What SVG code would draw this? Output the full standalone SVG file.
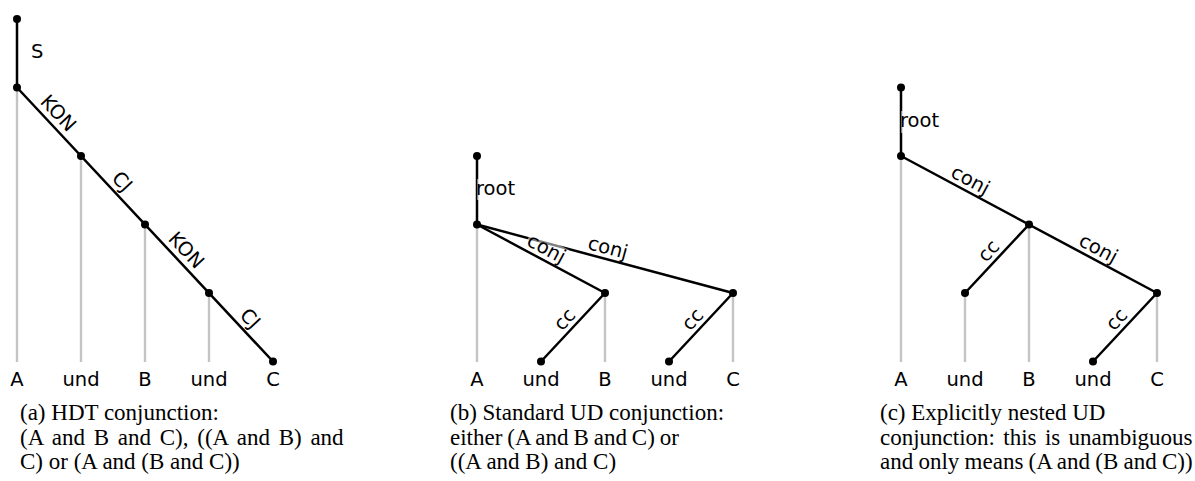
<svg xmlns="http://www.w3.org/2000/svg" width="1195" height="481" viewBox="0 0 1195 481">
<style>
.edge{stroke:#000;stroke-width:2.5;fill:none;stroke-linecap:round}
.proj{stroke:#c4c4c4;stroke-width:2.4;fill:none}
.dot{fill:#000}
.word{font-family:"DejaVu Sans",sans-serif;font-size:19.5px;fill:#000;text-anchor:middle}
.lbl{font-family:"DejaVu Sans",sans-serif;font-size:19.5px;fill:#000}
.mid{text-anchor:middle}
.bg{fill:#fff;fill-opacity:0.5}
.cap{font-family:"Liberation Serif","Times New Roman",serif;font-size:23px;fill:#000}
</style>
<rect width="1195" height="481" fill="#fff"/>

<!-- Panel (a) -->
<g id="panel-a">
  <g id="a-connectors">
    <line class="edge" x1="17" y1="19" x2="17" y2="87.5"/>
    <line class="edge" x1="17" y1="87.5" x2="273" y2="361.5"/>
    <text class="lbl" x="31" y="58">S</text>
    <text class="lbl mid" transform="translate(49,121.75) rotate(46.95)" y="-6">KON</text>
    <text class="lbl mid" transform="translate(113,190.25) rotate(46.95)" y="-6">CJ</text>
    <text class="lbl mid" transform="translate(177,258.75) rotate(46.95)" y="-6">KON</text>
    <text class="lbl mid" transform="translate(241,327.25) rotate(46.95)" y="-6">CJ</text>
  </g>
  <g id="a-root"><circle class="dot" cx="17" cy="19" r="4"/></g>
  <g id="a-A"><line class="proj" x1="17" y1="87.5" x2="17" y2="362"/><circle class="dot" cx="17" cy="87.5" r="4"/><text class="word" x="17" y="386">A</text></g>
  <g id="a-und1"><line class="proj" x1="81" y1="156" x2="81" y2="362"/><circle class="dot" cx="81" cy="156" r="4"/><text class="word" x="81" y="386">und</text></g>
  <g id="a-B"><line class="proj" x1="145" y1="224.5" x2="145" y2="362"/><circle class="dot" cx="145" cy="224.5" r="4"/><text class="word" x="145" y="386">B</text></g>
  <g id="a-und2"><line class="proj" x1="209" y1="293" x2="209" y2="362"/><circle class="dot" cx="209" cy="293" r="4"/><text class="word" x="209" y="386">und</text></g>
  <g id="a-C"><circle class="dot" cx="273" cy="361.5" r="4"/><text class="word" x="273" y="386">C</text></g>
  <g id="a-caption">
    <text class="cap" x="20" y="420">(a) HDT conjunction:</text>
    <text class="cap" x="20" y="444.5" word-spacing="3">(A and B and C), ((A and B) and</text>
    <text class="cap" x="20" y="469">C) or (A and (B and C))</text>
  </g>
</g>

<!-- Panel (b) -->
<g id="panel-b">
  <g id="b-nodes-proj">
    <line class="proj" x1="477" y1="224.5" x2="477" y2="362"/>
    <line class="proj" x1="605" y1="293" x2="605" y2="362"/>
    <line class="proj" x1="733" y1="293" x2="733" y2="362"/>
  </g>
  <g id="b-connectors">
    <line class="edge" x1="477" y1="156" x2="477" y2="224.5"/>
    <line class="edge" x1="477" y1="224.5" x2="733" y2="293"/>
    <line class="edge" x1="477" y1="224.5" x2="605" y2="293"/>
    <line class="edge" x1="541" y1="361.5" x2="605" y2="293"/>
    <line class="edge" x1="669" y1="361.5" x2="733" y2="293"/>
    <rect class="bg" x="477" y="179" width="41" height="21"/>
    <text class="lbl" x="476" y="195">root</text>
    <g transform="translate(541,258.75) rotate(28.16)">
      <rect class="bg" x="-21" y="-21" width="42" height="19.5"/>
      <text class="lbl mid" y="-5">conj</text>
    </g>
    <text class="lbl mid" transform="translate(605,258.75) rotate(14.98)" y="-5">conj</text>
    <text class="lbl mid" transform="translate(573,327.25) rotate(-46.95)" y="-5">cc</text>
    <text class="lbl mid" transform="translate(701,327.25) rotate(-46.95)" y="-5">cc</text>
  </g>
  <g id="b-root"><circle class="dot" cx="477" cy="156" r="4"/></g>
  <g id="b-A"><circle class="dot" cx="477" cy="224.5" r="4"/><text class="word" x="477" y="386">A</text></g>
  <g id="b-und1"><circle class="dot" cx="541" cy="361.5" r="4"/><text class="word" x="541" y="386">und</text></g>
  <g id="b-B"><circle class="dot" cx="605" cy="293" r="4"/><text class="word" x="605" y="386">B</text></g>
  <g id="b-und2"><circle class="dot" cx="669" cy="361.5" r="4"/><text class="word" x="669" y="386">und</text></g>
  <g id="b-C"><circle class="dot" cx="733" cy="293" r="4"/><text class="word" x="733" y="386">C</text></g>
  <g id="b-caption">
    <text class="cap" x="450" y="420">(b) Standard UD conjunction:</text>
    <text class="cap" x="450" y="444.5" word-spacing="-0.8">either (A and B and C) or</text>
    <text class="cap" x="450" y="469">((A and B) and C)</text>
  </g>
</g>

<!-- Panel (c) -->
<g id="panel-c">
  <g id="c-nodes-proj">
    <line class="proj" x1="901" y1="156" x2="901" y2="362"/>
    <line class="proj" x1="965" y1="293" x2="965" y2="362"/>
    <line class="proj" x1="1029" y1="224.5" x2="1029" y2="362"/>
    <line class="proj" x1="1157" y1="293" x2="1157" y2="362"/>
  </g>
  <g id="c-connectors">
    <line class="edge" x1="901" y1="87.5" x2="901" y2="156"/>
    <line class="edge" x1="901" y1="156" x2="1157" y2="293"/>
    <line class="edge" x1="965" y1="293" x2="1029" y2="224.5"/>
    <line class="edge" x1="1093" y1="361.5" x2="1157" y2="293"/>
    <rect class="bg" x="901" y="111" width="41" height="22"/>
    <text class="lbl" x="900" y="127">root</text>
    <text class="lbl mid" transform="translate(965,190.25) rotate(28.16)" y="-5">conj</text>
    <text class="lbl mid" transform="translate(1093,258.75) rotate(28.16)" y="-5">conj</text>
    <text class="lbl mid" transform="translate(997,258.75) rotate(-46.95)" y="-5">cc</text>
    <text class="lbl mid" transform="translate(1125,327.25) rotate(-46.95)" y="-5">cc</text>
  </g>
  <g id="c-root"><circle class="dot" cx="901" cy="87.5" r="4"/></g>
  <g id="c-A"><circle class="dot" cx="901" cy="156" r="4"/><text class="word" x="901" y="386">A</text></g>
  <g id="c-und1"><circle class="dot" cx="965" cy="293" r="4"/><text class="word" x="965" y="386">und</text></g>
  <g id="c-B"><circle class="dot" cx="1029" cy="224.5" r="4"/><text class="word" x="1029" y="386">B</text></g>
  <g id="c-und2"><circle class="dot" cx="1093" cy="361.5" r="4"/><text class="word" x="1093" y="386">und</text></g>
  <g id="c-C"><circle class="dot" cx="1157" cy="293" r="4"/><text class="word" x="1157" y="386">C</text></g>
  <g id="c-caption">
    <text class="cap" x="880" y="420">(c) Explicitly nested UD</text>
    <text class="cap" x="880" y="444.5" word-spacing="2.6">conjunction: this is unambiguous</text>
    <text class="cap" x="880" y="469" word-spacing="-0.5">and only means (A and (B and C))</text>
  </g>
</g>
</svg>
